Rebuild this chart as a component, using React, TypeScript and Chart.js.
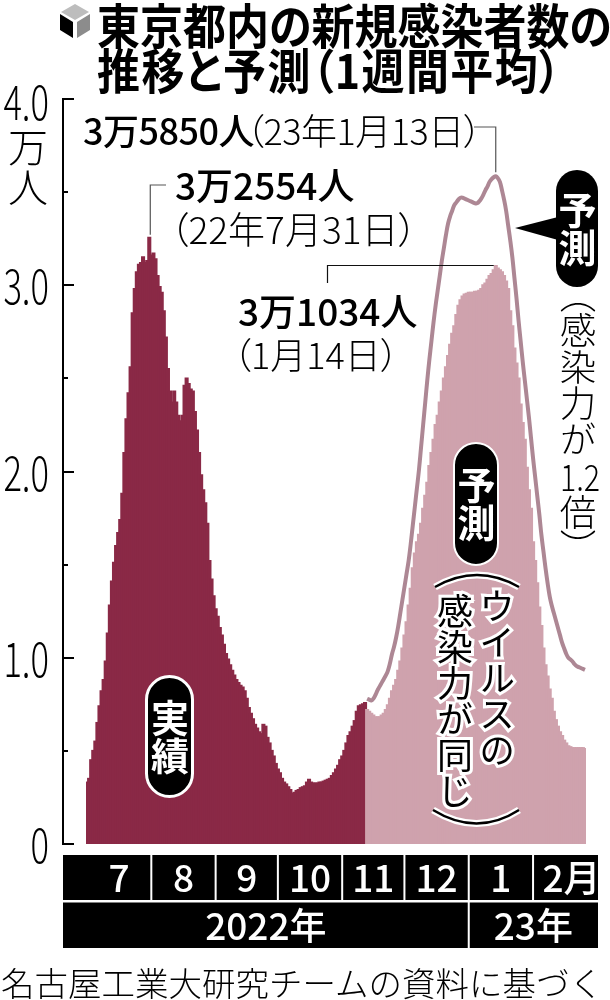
import React, { useEffect, useRef } from "react";
import { Chart, registerables } from "chart.js";

Chart.register(...registerables);

const monthLabels = ["7", "8", "9", "10", "11", "12", "1", "2月"];
const monthDays = [31, 31, 30, 31, 30, 31, 31, 26];
const yearLabels = ["2022年", "23年"];
const yearMonths = [6, 2];

const actual = [
  0.33, 0.35, 0.45, 0.5, 0.55, 0.65, 0.74, 0.82, 0.88, 0.98, 1.13, 1.28, 1.41, 1.51, 1.6, 1.67, 1.74, 1.88, 2.1, 2.28,
  2.42, 2.56, 2.85, 2.98, 3.07, 3.11, 3.12, 3.15, 3.12, 3.13, 3.2554, 3.16, 3.17, 3.14, 3.05, 2.99, 2.96, 2.86, 2.72, 2.55,
  2.43, 2.37, 2.43, 2.37, 2.3, 2.27, 2.3, 2.46, 2.5, 2.47, 2.44, 2.43, 2.32, 2.22, 2.1, 1.98, 1.9, 1.83, 1.72, 1.52,
  1.42, 1.33, 1.26, 1.22, 1.16, 1.12, 1.07, 1.02, 0.99, 0.96, 0.93, 0.905, 0.88, 0.865, 0.85, 0.84, 0.82, 0.78, 0.73, 0.7,
  0.67, 0.64, 0.62, 0.6, 0.59, 0.64, 0.63, 0.57, 0.54, 0.5, 0.47, 0.43, 0.4, 0.38, 0.35, 0.33, 0.32, 0.305, 0.29, 0.27,
  0.275, 0.285, 0.29, 0.3, 0.305, 0.31, 0.33, 0.345, 0.33, 0.325, 0.325, 0.325, 0.33, 0.33, 0.335, 0.34, 0.345, 0.35, 0.365, 0.38,
  0.4, 0.42, 0.45, 0.47, 0.5, 0.54, 0.58, 0.6, 0.63, 0.66, 0.71, 0.74, 0.745, 0.75, 0.757,
];

const forecastSame = [
  0.72, 0.71, 0.7, 0.69, 0.68, 0.68, 0.68, 0.69, 0.7, 0.72, 0.745, 0.78, 0.82, 0.85, 0.88, 0.93, 0.98, 1.05, 1.12, 1.19,
  1.28, 1.37, 1.48, 1.56, 1.62, 1.66, 1.72, 1.8, 1.87, 1.94, 2.03, 2.1, 2.17, 2.25, 2.3, 2.37, 2.43, 2.5, 2.56, 2.62,
  2.68, 2.74, 2.78, 2.84, 2.89, 2.92, 2.94, 2.95, 2.955, 2.96, 2.96, 2.96, 2.965, 2.965, 2.97, 2.98, 3.0, 3.01, 3.03, 3.05,
  3.06, 3.08, 3.1034, 3.09, 3.08, 3.07, 3.05, 3.02, 2.98, 2.86, 2.78, 2.66, 2.58, 2.5, 2.36, 2.26, 2.17, 2.02, 1.9, 1.8,
  1.62, 1.52, 1.4, 1.27, 1.17, 1.05, 0.96, 0.9, 0.83, 0.78, 0.71, 0.665, 0.63, 0.6, 0.58, 0.555, 0.54, 0.525, 0.52, 0.515,
  0.515, 0.515, 0.515, 0.515, 0.515, 0.51, 0.51,
];

const forecastStrong = [
  0.78, 0.775, 0.77, 0.78, 0.8, 0.825, 0.845, 0.865, 0.885, 0.905, 0.93, 0.97, 1.02, 1.06, 1.11, 1.17, 1.24, 1.31, 1.38, 1.45,
  1.52, 1.61, 1.71, 1.81, 1.91, 2.01, 2.13, 2.25, 2.37, 2.49, 2.6, 2.7, 2.8, 2.89, 2.97, 3.05, 3.13, 3.2, 3.27, 3.33,
  3.37, 3.4, 3.43, 3.445, 3.46, 3.47, 3.47, 3.465, 3.46, 3.455, 3.45, 3.445, 3.44, 3.44, 3.45, 3.465, 3.485, 3.51, 3.53, 3.555,
  3.57, 3.58, 3.585, 3.575, 3.555, 3.51, 3.46, 3.4, 3.32, 3.24, 3.15, 3.04, 2.93, 2.81, 2.7, 2.59, 2.49, 2.39, 2.29, 2.18,
  2.07, 1.97, 1.87, 1.77, 1.66, 1.57, 1.48, 1.4, 1.33, 1.28, 1.24, 1.2, 1.16, 1.12, 1.08, 1.05, 1.02, 1.0, 0.99, 0.98,
  0.965, 0.955, 0.95, 0.945, 0.94, 0.935, 0.93,
];

const dayLabels: string[] = [];
monthLabels.forEach((m, i) => {
  for (let d = 1; d <= monthDays[i]; d++) dayLabels.push(`${m.replace("月", "")}/${d}`);
});

const pad = (n: number) => new Array(n).fill(null);
const SANS = '"Noto Sans CJK JP", "Noto Sans", sans-serif';
const DARK = "#8a2946";
const PINK = "#cfa2ad";
const LINE = "#ad8794";

const overlayPlugin = {
  id: "overlay",
  afterDatasetsDraw(chart: any) {
    const { ctx, scales } = chart;
    const x = scales.x;
    const y = scales.y;
    ctx.save();

    // y axis
    ctx.strokeStyle = "#000";
    ctx.lineWidth = 2;
    ctx.beginPath();
    ctx.moveTo(63, y.getPixelForValue(4));
    ctx.lineTo(63, y.getPixelForValue(0));
    y.ticks.forEach((t: any) => {
      const py = Math.round(y.getPixelForValue(t.value));
      const major = Number.isInteger(t.value);
      ctx.moveTo(62, py);
      ctx.lineTo(major ? 74 : 68, py);
    });
    ctx.stroke();

    // y tick labels, condensed like the reference's type
    ctx.fillStyle = "#000";
    ctx.textAlign = "right";
    ctx.textBaseline = "middle";
    ctx.font = `300 48px ${SANS}`;
    y.ticks.forEach((t: any) => {
      if (!Number.isInteger(t.value)) return;
      const label = t.value === 0 ? "0" : Number(t.value).toFixed(1);
      ctx.save();
      ctx.translate(49, y.getPixelForValue(t.value) + (t.value === 4 ? 3 : 1));
      ctx.scale(0.72, 1);
      ctx.fillText(label, 0, 0);
      ctx.restore();
    });

    // leaders
    const peakA = actual.indexOf(Math.max(...actual));
    const peakS = actual.length + forecastStrong.indexOf(Math.max(...forecastStrong));
    const peakF = actual.length + forecastSame.indexOf(Math.max(...forecastSame));
    ctx.lineWidth = 1.2;
    ctx.strokeStyle = "#555";
    ctx.beginPath();
    const ax = x.getPixelForValue(peakA) + 1;
    ctx.moveTo(ax, y.getPixelForValue(actual[peakA]) - 3);
    ctx.lineTo(ax, 185);
    ctx.lineTo(166, 185);
    const sx = x.getPixelForValue(peakS);
    ctx.moveTo(sx, y.getPixelForValue(forecastStrong[peakS - actual.length]) - 4);
    ctx.lineTo(sx, 127);
    ctx.lineTo(474, 127);
    ctx.stroke();
    ctx.strokeStyle = "#111";
    ctx.beginPath();
    const fx = x.getPixelForValue(peakF);
    ctx.moveTo(fx - 2, 265.5);
    ctx.lineTo(327.5, 265.5);
    ctx.lineTo(327.5, 283);
    ctx.stroke();

    // month and year bands
    const edge = (i: number) => x.getPixelForValue(i) - (x.getPixelForValue(1) - x.getPixelForValue(0)) / 2;
    const bandL = 63;
    const bandR = 598;
    ctx.fillStyle = "#000";
    ctx.fillRect(bandL, 855, bandR - bandL, 45);
    ctx.fillRect(bandL, 902.5, bandR - bandL, 45.5);
    ctx.textAlign = "center";
    ctx.textBaseline = "middle";
    ctx.font = `500 37px ${SANS}`;
    let start = 0;
    const starts: number[] = [];
    monthLabels.forEach((m, i) => {
      starts.push(start);
      const left = edge(start) + 1;
      const last = i === monthLabels.length - 1;
      const right = last ? bandR : edge(start + monthDays[i]) + 1;
      if (i > 0) {
        ctx.fillStyle = "#fff";
        ctx.fillRect(left - 1, 855, 2, 45);
      }
      ctx.fillStyle = "#fff";
      ctx.fillText(m, (left + (last ? 610 : right)) / 2, 878);
      start += monthDays[i];
    });
    let mi = 0;
    yearLabels.forEach((label, i) => {
      const left = i === 0 ? bandL : edge(starts[mi]) + 1;
      const nextM = mi + yearMonths[i];
      const right = nextM >= monthLabels.length ? bandR : edge(starts[nextM]) + 1;
      if (i > 0) {
        ctx.fillStyle = "#fff";
        ctx.fillRect(left - 1, 900, 2, 48);
      }
      ctx.fillStyle = "#fff";
      ctx.fillText(label, (left + right) / 2, 926);
      mi = nextM;
    });
    ctx.restore();
  },
};

const abs = (left: number, top: number, extra: React.CSSProperties = {}): React.CSSProperties => ({
  position: "absolute",
  left,
  top,
  fontFamily: SANS,
  lineHeight: 1,
  whiteSpace: "nowrap",
  color: "#000",
  fontFeatureSettings: '"palt"',
  ...extra,
});

const vertical: React.CSSProperties = { writingMode: "vertical-rl" };
const halo: React.CSSProperties = { WebkitTextStroke: "6px #fff", paintOrder: "stroke fill" } as any;
const tall: React.CSSProperties = { transform: "scaleY(1.1)", transformOrigin: "top left" };

function Pill(props: { text: string; left: number; top: number; width: number; height: number; size: number; ring?: number }) {
  const ring = props.ring ?? 0;
  return (
    <div
      style={{
        position: "absolute",
        left: props.left,
        top: props.top,
        width: props.width,
        height: props.height,
        background: "#000",
        borderRadius: props.width / 2,
        border: ring ? `${ring}px solid #fff` : undefined,
        boxSizing: "border-box",
        display: "flex",
        alignItems: "center",
        justifyContent: "center",
        color: "#fff",
        fontFamily: SANS,
        fontWeight: 700,
        fontSize: props.size,
        lineHeight: 1,
        writingMode: "vertical-rl",
      }}
    >
      {props.text}
    </div>
  );
}

export default function App() {
  const ref = useRef<HTMLCanvasElement>(null);

  useEffect(() => {
    document.body.style.margin = "0";
    const chart = new Chart(ref.current as HTMLCanvasElement, {
      type: "bar",
      data: {
        labels: dayLabels,
        datasets: [
          { type: "line", label: "予測(感染力が1.2倍)", data: [...pad(actual.length), ...forecastStrong], borderColor: LINE, borderWidth: 4, pointRadius: 0, tension: 0.4, order: 0 },
          { label: "実績", data: actual, backgroundColor: DARK, barPercentage: 1, categoryPercentage: 1, grouped: false, inflateAmount: 1, order: 2 },
          { label: "予測(ウイルスの感染力が同じ)", data: [...pad(actual.length), ...forecastSame], backgroundColor: PINK, barPercentage: 1, categoryPercentage: 1, grouped: false, inflateAmount: 1, order: 1 },
        ] as any,
      },
      options: {
        animation: false,
        responsive: false,
        devicePixelRatio: 1,
        layout: { padding: { left: 0, right: 24, top: 99, bottom: 156 } },
        plugins: { legend: { display: false }, tooltip: { enabled: false }, title: { display: false } },
        scales: {
          x: { display: false, offset: true, grid: { display: false } },
          y: {
            min: 0,
            max: 4,
            afterFit: (s: any) => { s.width = 86; },
            grid: { display: false, drawTicks: false },
            border: { display: false },
            ticks: { display: false, stepSize: 0.5, autoSkip: false },
          },
        },
      } as any,
      plugins: [overlayPlugin],
    });
    return () => chart.destroy();
  }, []);

  return (
    <div style={{ position: "relative", width: 610, height: 1000, overflow: "hidden", background: "#fff" }}>
      <canvas ref={ref} width={610} height={1000} style={{ display: "block", position: "absolute", left: 0, top: 0 }} />

      <svg style={{ position: "absolute", left: 60, top: 3 }} width={30} height={36} viewBox="0 0 30 36">
        <polygon points="15,1 29,9 15,17 1,9" fill="#bdbdbd" />
        <polygon points="0,11 13,19 13,35 0,27" fill="#000" />
        <polygon points="30,11 17,19 17,35 30,27" fill="#8c8c8c" />
      </svg>
      <div style={abs(97, 0, { fontSize: 43, fontWeight: 700, ...tall })}>東京都内の新規感染者数の</div>
      <div style={abs(97, 45, { fontSize: 43, fontWeight: 700, letterSpacing: 1.4, ...tall })}>推移と予測（1週間平均）</div>

      <div style={abs(8, 127, { ...vertical, fontSize: 40, fontWeight: 300 })}>万人</div>

      <div style={abs(83, 111, { fontSize: 36, fontWeight: 500, letterSpacing: -0.5 })}>3万5850人</div>
      <div style={abs(246, 111, { fontSize: 36, fontWeight: 300, letterSpacing: -0.5 })}>（23年1月13日）</div>
      <div style={abs(175, 166, { fontSize: 37, fontWeight: 500 })}>3万2554人</div>
      <div style={abs(170, 210, { fontSize: 37, fontWeight: 300 })}>（22年7月31日）</div>
      <div style={abs(238, 292, { fontSize: 37, fontWeight: 500 })}>3万1034人</div>
      <div style={abs(233, 335, { fontSize: 36, fontWeight: 300 })}>（1月14日）</div>

      <svg style={{ position: "absolute", left: 510, top: 210 }} width={50} height={40}>
        <polygon points="5,18 48,7 48,30" fill="#000" />
      </svg>
      <Pill text="予測" left={556} top={170} width={42} height={117} size={38} />
      <div style={abs(559, 294, { ...vertical, fontSize: 36.5, fontWeight: 300, fontFeatureSettings: '"vpal"' })}>
        （感染力が<span style={{ textCombineUpright: "all" } as any}>1.2</span>倍）
      </div>

      <Pill text="予測" left={453} top={442} width={46} height={124} size={38} ring={2} />
      <div style={abs(479, 588, { ...vertical, ...halo, fontSize: 36, fontWeight: 400, fontFeatureSettings: "normal" })}>ウイルスの</div>
      <div style={abs(437, 593, { ...vertical, ...halo, fontSize: 36, fontWeight: 400, fontFeatureSettings: "normal" })}>感染力が同じ</div>
      <svg style={{ position: "absolute", left: 425, top: 565 }} width={105} height={270}>
        <path d="M10,22 Q52,-2 94,22" fill="none" stroke="#fff" strokeWidth={7} />
        <path d="M10,22 Q52,-2 94,22" fill="none" stroke="#000" strokeWidth={2.5} />
        <path d="M8,245 Q52,272 94,245" fill="none" stroke="#fff" strokeWidth={7} />
        <path d="M8,245 Q52,272 94,245" fill="none" stroke="#000" strokeWidth={2.5} />
      </svg>

      <Pill text="実績" left={145} top={675} width={49} height={123} size={38} ring={3} />

      <div style={abs(1, 965, { fontSize: 33.5, fontWeight: 300, fontFeatureSettings: "normal" })}>名古屋工業大研究チームの資料に基づく</div>
    </div>
  );
}
